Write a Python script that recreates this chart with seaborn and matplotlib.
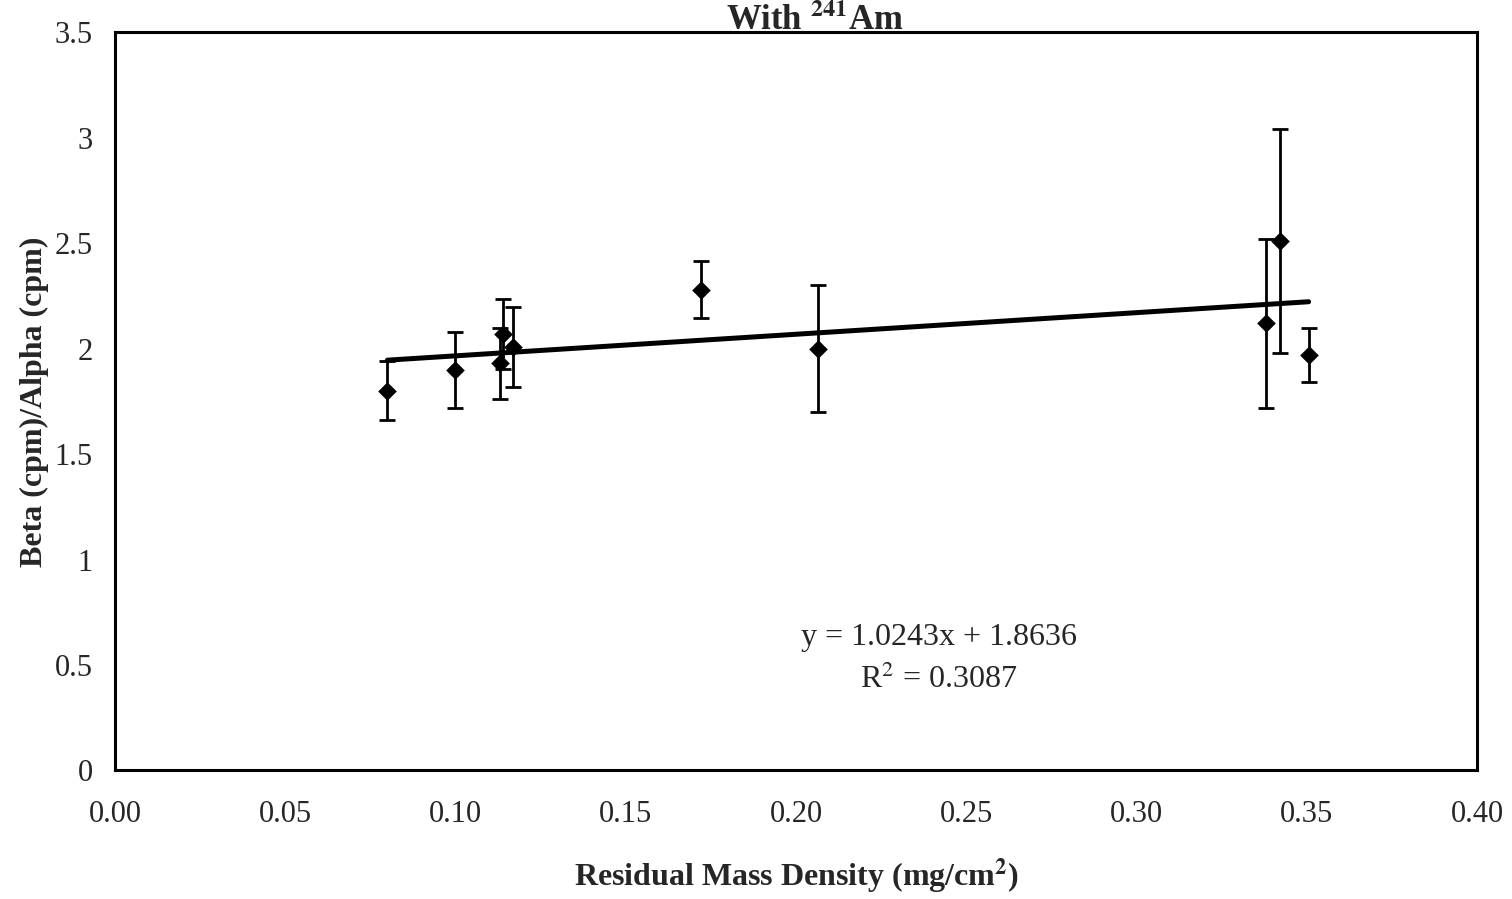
import numpy as np
import pandas as pd
import matplotlib
matplotlib.use("Agg")
import matplotlib.pyplot as plt
from matplotlib.ticker import FuncFormatter
import seaborn as sns

# ── Data ─────────────────────────────────────────────────────────────────────
mass_density = [0.080, 0.100, 0.113, 0.114, 0.117, 0.172, 0.2065, 0.338, 0.342, 0.3505]
ratio        = [1.80, 1.90, 1.93, 2.07, 2.01, 2.28, 2.00, 2.12, 2.51, 1.97]
ratio_err    = [0.14, 0.18, 0.17, 0.165, 0.19, 0.135, 0.30, 0.40, 0.53, 0.13]

fit_slope     = 1.0243
fit_intercept = 1.8636
fit_r2        = 0.3087

x_ticks = [0.00, 0.05, 0.10, 0.15, 0.20, 0.25, 0.30, 0.35, 0.40]
y_ticks = [0, 0.5, 1, 1.5, 2, 2.5, 3, 3.5]

df = pd.DataFrame({"x": mass_density, "y": ratio, "err": ratio_err})

# ── Style ────────────────────────────────────────────────────────────────────
sns.set_style("white")
plt.rcParams["font.family"] = ["Liberation Serif", "DejaVu Serif"]
plt.rcParams["mathtext.fontset"] = "stix"

fig = plt.figure(figsize=(15.12, 8.99), dpi=100)
ax = fig.add_axes([0.076, 0.143, 0.901, 0.821])

# error bars + points
ax.errorbar(df["x"], df["y"], yerr=df["err"], fmt="none",
            ecolor="black", elinewidth=2, capsize=5.5, capthick=2, zorder=2)
sns.scatterplot(data=df, x="x", y="y", marker="D", s=90, color="black",
                edgecolor="black", linewidth=0, ax=ax, zorder=3)

# linear trend line
x_line = np.array([min(mass_density), max(mass_density)])
ax.plot(x_line, fit_slope * x_line + fit_intercept, color="black", lw=3.6, zorder=2)

ax.text(0.242, 0.63, f"y = {fit_slope}x + {fit_intercept}", ha="center",
        va="center", fontsize=23)
ax.text(0.242, 0.43, f"R$^2$ = {fit_r2}", ha="center", va="center", fontsize=23)

# ── Axes ─────────────────────────────────────────────────────────────────────
ax.set_xlim(0, 0.40)
ax.set_ylim(0, 3.5)
ax.set_xticks(x_ticks)
ax.set_yticks(y_ticks)
ax.xaxis.set_major_formatter(FuncFormatter(lambda v, p: f"{v:.2f}"))
ax.yaxis.set_major_formatter(FuncFormatter(lambda v, p: f"{v:g}"))
ax.tick_params(axis="x", direction="inout", length=14, width=1.2,
               labelsize=22, pad=14)
ax.tick_params(axis="y", direction="out", length=10, width=1.2,
               labelsize=22, pad=6)
for s in ax.spines.values():
    s.set_linewidth(2.2)
    s.set_color("black")

ax.set_xlabel("Residual Mass Density (mg/cm$^\\mathbf{2}$)", fontsize=23,
              fontweight="bold", labelpad=20)
ax.set_ylabel("Beta (cpm)/Alpha (cpm)", fontsize=23, fontweight="bold", labelpad=4)

# title (cut off at the top of the original scan)
fig.text(0.539, 0.967, "With $^{\\mathbf{241}}$Am", ha="center", va="baseline",
         fontsize=25, fontweight="bold")

fig.savefig("out.png", dpi=100)
